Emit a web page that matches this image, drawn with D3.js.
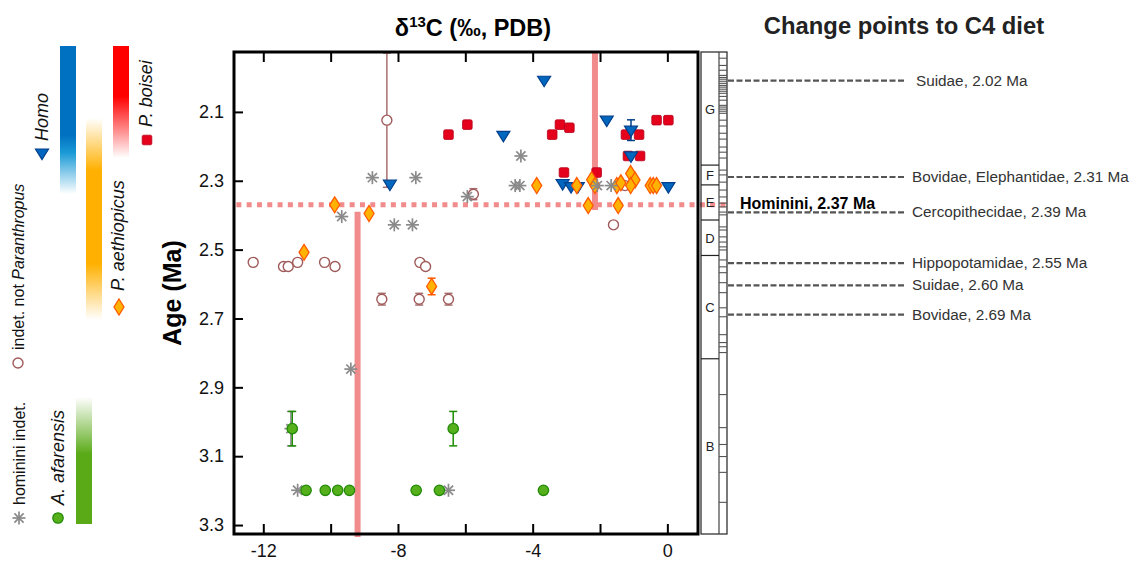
<!DOCTYPE html>
<html>
<head>
<meta charset="utf-8">
<script src="https://cdn.jsdelivr.net/npm/d3@7"></script>
<style>
  body { margin: 0; background: #fff; }
  svg { font-family: "Liberation Sans", Arial, Helvetica, sans-serif; }
</style>
</head>
<body>
<div id="chart"></div>
<script>
// values: [d13C, age (Ma), error half-width]
const homo = [
  [-3.66, 2.008], [-4.87, 2.168], [-1.80, 2.124], [-1.08, 2.153, 0.03], [-1.08, 2.228],
  [-8.24, 2.310], [-3.11, 2.308], [-2.86, 2.317], [-2.66, 2.317], [0.03, 2.317]
];
const boisei = [
  [-6.50, 2.166], [-5.94, 2.137], [-3.42, 2.166], [-3.19, 2.137], [-2.91, 2.146],
  [-1.23, 2.166], [-0.84, 2.166], [-0.32, 2.124], [0.03, 2.124], [-1.17, 2.228],
  [-0.81, 2.228], [-3.07, 2.276], [-2.10, 2.276]
];
const aethiopicus = [
  [-9.88, 2.370], [-8.86, 2.395], [-10.79, 2.508], [-7.00, 2.607, 0.024], [-3.88, 2.314],
  [-2.69, 2.314], [-2.25, 2.297], [-2.15, 2.314], [-1.50, 2.314], [-1.38, 2.306],
  [-1.09, 2.279], [-0.96, 2.298], [-1.09, 2.314], [-0.51, 2.314], [-0.42, 2.314],
  [-0.32, 2.314], [-2.35, 2.372], [-1.46, 2.372]
];
const indetNotParanthropus = [
  [-8.33, 2.124, 0.195], [-5.76, 2.339, 0.016], [-12.30, 2.537], [-11.40, 2.549],
  [-11.26, 2.549], [-10.98, 2.537], [-10.18, 2.537], [-9.87, 2.549], [-7.35, 2.537],
  [-7.18, 2.549], [-8.48, 2.644, 0.017], [-7.37, 2.644, 0.017], [-6.50, 2.644, 0.017],
  [-1.60, 2.428], [-1.26, 2.314]
];
const homininiIndet = [
  [-8.76, 2.291], [-7.47, 2.291], [-5.94, 2.346], [-9.67, 2.404], [-8.11, 2.428],
  [-7.57, 2.428], [-4.35, 2.228], [-4.52, 2.314], [-4.38, 2.314], [-2.08, 2.314],
  [-1.67, 2.314], [-9.40, 2.847], [-11.18, 3.020, 0.05], [-10.98, 3.199], [-6.50, 3.199]
];
const afarensis = [
  [-11.14, 3.020, 0.05], [-6.36, 3.020, 0.05], [-10.73, 3.199], [-10.16, 3.199],
  [-9.79, 3.199], [-9.44, 3.199], [-7.46, 3.199], [-6.77, 3.199], [-3.68, 3.199]
];

// shift in d13C: [d13C, from age, to age]
const shiftLines = [[-9.2, 2.39, 3.335], [-2.15, 1.926, 2.385]];
const homininiChange = 2.37;

const xTicks = [-12, -10, -8, -6, -4, -2, 0];
const xLabels = [-12, -8, -4, 0];
const yTicks = [2.1, 2.3, 2.5, 2.7, 2.9, 3.1, 3.3];

// stratigraphic column
const members = ["G", "F", "E", "D", "C", "B"];
const memberBounds = [1.926, 2.2545, 2.312, 2.414, 2.517, 2.817, 3.326];
const sectionTicks = [1.944, 1.965, 1.979, 1.994, 2.000, 2.005, 2.011, 2.017, 2.023, 2.028,
  2.034, 2.040, 2.046, 2.055, 2.066, 2.081, 2.086, 2.092, 2.098, 2.104, 2.124, 2.141,
  2.162, 2.179, 2.202, 2.217, 2.234, 2.269, 2.283, 2.304, 2.327, 2.347, 2.365, 2.376,
  2.391, 2.399, 2.434, 2.443, 2.463, 2.478, 2.492, 2.501, 2.530, 2.550, 2.567, 2.596,
  2.625, 2.669, 2.695, 2.747, 2.770, 2.782, 2.799, 2.921, 3.017, 3.066, 3.101, 3.147, 3.234];

const changeNames = ["Suidae", "Bovidae, Elephantidae", "Cercopithecidae", "Hippopotamidae", "Suidae", "Bovidae"];
const changeAges = ["2.02", "2.31", "2.39", "2.55", "2.60", "2.69"];
const changeInColumn = [2.009, 2.289, 2.392, 2.539, 2.604, 2.689];

const W = 1136, H = 561;
const svg = d3.select("#chart").append("svg").attr("width", W).attr("height", H);

const x = d3.scaleLinear().domain([-12.87, 0.91]).range([234, 698]);
const y = d3.scaleLinear().domain([1.926, 3.326]).range([52, 534]);

// ---- legend bars
const defs = svg.append("defs");
function grad(id, stops) {
  const g = defs.append("linearGradient").attr("id", id)
    .attr("x1", 0).attr("y1", 0).attr("x2", 0).attr("y2", 1);
  stops.forEach(s => g.append("stop").attr("offset", s[0]).attr("stop-color", s[1]));
}
grad("gHomo", [[0, "#0070c0"], [0.6, "#0070c0"], [0.72, "#1a9ad6"], [1, "#ffffff"]]);
grad("gBoisei", [[0, "#ff0000"], [0.45, "#ff0000"], [1, "#ffffff"]]);
grad("gAeth", [[0, "#ffffff"], [0.26, "#ffb000"], [0.72, "#ffb000"], [1, "#ffffff"]]);
grad("gAfar", [[0, "#ffffff"], [0.45, "#5aaa18"], [1, "#5aaa18"]]);

const bars = [
  {x: 60, y0: 46, y1: 194, fill: "url(#gHomo)"},
  {x: 113, y0: 46, y1: 158, fill: "url(#gBoisei)"},
  {x: 86, y0: 118, y1: 320, fill: "url(#gAeth)"},
  {x: 76, y0: 397, y1: 524, fill: "url(#gAfar)"}
];
svg.selectAll("rect.lbar").data(bars).enter().append("rect")
  .attr("class", "lbar")
  .attr("x", d => d.x).attr("y", d => d.y0)
  .attr("width", 16).attr("height", d => d.y1 - d.y0)
  .attr("fill", d => d.fill);

// ---- symbols
const sym = {
  tri: g => g.append("path").attr("d", "M-6.5,-4L6.5,-4L0,6.5Z")
    .attr("fill", "#0066be").attr("stroke", "#003f8c").attr("stroke-width", 1.2),
  sq: g => g.append("rect").attr("x", -4.8).attr("y", -4.8).attr("width", 9.6).attr("height", 9.6)
    .attr("rx", 1.5).attr("fill", "#e5001b").attr("stroke", "#b5001a").attr("stroke-width", 0.8),
  dia: g => g.append("path").attr("d", "M0,-8L5,0L0,8L-5,0Z")
    .attr("fill", "#ffb300").attr("stroke", "#ff5a00").attr("stroke-width", 1.3),
  circ: g => g.append("circle").attr("r", 5)
    .attr("fill", "#fff").attr("stroke", "#a05a5a").attr("stroke-width", 1.4),
  ast: g => {
    [0, 45, 90, 135].forEach(a => g.append("line")
      .attr("x1", -6.5).attr("x2", 6.5).attr("transform", `rotate(${a})`)
      .attr("stroke", "#8a8a8a").attr("stroke-width", 1.7));
  },
  green: g => g.append("circle").attr("r", 5.2)
    .attr("fill", "#55b01c").attr("stroke", "#238a08").attr("stroke-width", 1.3)
};

// ---- legend labels
const legend = [
  {parts: [["Homo", true]], tx: 48, ty: 141, size: 18, mark: "tri", mx: 42, my: 153},
  {parts: [["P. boisei", true]], tx: 152, ty: 127, size: 18, mark: "sq", mx: 147, my: 140},
  {parts: [["P. aethiopicus", true]], tx: 124, ty: 291, size: 18, mark: "dia", mx: 119, my: 307},
  {parts: [["indet. not ", false], ["Paranthropus", true]], tx: 24, ty: 350, size: 16, mark: "circ", mx: 18, my: 363},
  {parts: [["hominini indet.", false]], tx: 25, ty: 505, size: 16, mark: "ast", mx: 19, my: 518},
  {parts: [["A. afarensis", true]], tx: 64, ty: 505, size: 18, mark: "green", mx: 58, my: 518}
];
legend.forEach(l => {
  const t = svg.append("text")
    .attr("transform", `translate(${l.tx},${l.ty}) rotate(-90)`)
    .attr("font-size", l.size).attr("fill", "#111");
  l.parts.forEach(p => t.append("tspan").text(p[0]).attr("font-style", p[1] ? "italic" : "normal"));
  sym[l.mark](svg.append("g").attr("transform", `translate(${l.mx},${l.my})`));
});

// ---- shift lines
const red = "#f28b8b";
svg.selectAll("line.shift").data(shiftLines).enter().append("line")
  .attr("x1", d => x(d[0])).attr("x2", d => x(d[0]))
  .attr("y1", d => y(d[1])).attr("y2", d => y(d[2]))
  .attr("stroke", red).attr("stroke-width", 6);
svg.append("line")
  .attr("x1", x(-12.8)).attr("x2", 728)
  .attr("y1", y(homininiChange)).attr("y2", y(homininiChange))
  .attr("stroke", red).attr("stroke-width", 5).attr("stroke-dasharray", "5,5.3");

// ---- data points
function drawSeries(data, mark, errColor) {
  const g = svg.append("g");
  data.filter(d => d[2]).forEach(d => {
    const eg = g.append("g").attr("stroke", errColor).attr("stroke-width", 1.5);
    const cx = x(d[0]), ya = y(d[1] - d[2]), yb = y(d[1] + d[2]);
    eg.append("line").attr("x1", cx).attr("x2", cx).attr("y1", ya).attr("y2", yb);
    [ya, yb].forEach(v => eg.append("line").attr("x1", cx - 4).attr("x2", cx + 4).attr("y1", v).attr("y2", v));
  });
  data.forEach(d => sym[mark](g.append("g").attr("transform", `translate(${x(d[0])},${y(d[1])})`)));
}
drawSeries(indetNotParanthropus, "circ", "#a86e6e");
drawSeries(boisei, "sq", "#c0001a");
drawSeries(homo, "tri", "#003f8c");
drawSeries(aethiopicus, "dia", "#ff5a00");
drawSeries(homininiIndet, "ast", "#8a8a8a");
drawSeries(afarensis, "green", "#1e8c00");

// ---- axes
const axB = svg.append("g").attr("transform", `translate(0,${y.range()[1]})`)
  .call(d3.axisBottom(x).tickValues(xTicks).tickSizeInner(-10).tickSizeOuter(0).tickPadding(10)
    .tickFormat(d => xLabels.includes(d) ? String(d) : ""));
const axT = svg.append("g").attr("transform", `translate(0,${y.range()[0]})`)
  .call(d3.axisTop(x).tickValues(xTicks).tickSizeInner(-10).tickSizeOuter(0).tickFormat(""));
const axL = svg.append("g").attr("transform", `translate(${x.range()[0]},0)`)
  .call(d3.axisLeft(y).tickValues(yTicks).tickSizeInner(-9).tickSizeOuter(0).tickPadding(10)
    .tickFormat(d3.format(".1f")));
[axB, axT, axL].forEach(a => {
  a.select(".domain").remove();
  a.selectAll(".tick line").attr("stroke", "#000").attr("stroke-width", 2);
  a.selectAll(".tick text").attr("font-size", 18).attr("fill", "#111")
    .attr("font-family", "'Liberation Sans', Arial, sans-serif");
});

svg.append("rect")
  .attr("x", x.range()[0]).attr("y", y.range()[0])
  .attr("width", x.range()[1] - x.range()[0]).attr("height", y.range()[1] - y.range()[0])
  .attr("fill", "none").attr("stroke", "#000").attr("stroke-width", 3);

svg.append("text")
  .attr("transform", `translate(181,${(y.range()[0] + y.range()[1]) / 2}) rotate(-90)`)
  .attr("text-anchor", "middle").attr("font-size", 25).attr("font-weight", "bold")
  .text("Age (Ma)");

const title = svg.append("text").attr("x", 473).attr("y", 36)
  .attr("text-anchor", "middle").attr("font-size", 23.5).attr("font-weight", "bold");
title.append("tspan").text("δ");
title.append("tspan").text("13").attr("font-size", 15).attr("dy", -9);
title.append("tspan").text("C (‰, PDB)").attr("dy", 9);

svg.append("text").attr("x", 904).attr("y", 34)
  .attr("text-anchor", "middle").attr("font-size", 23.8).attr("font-weight", "bold")
  .attr("fill", "#222")
  .text("Change points to C4 diet");

// ---- stratigraphic column
const colX0 = 701, colX1 = 719, colX2 = 727;
const col = svg.append("g");
col.append("rect").attr("x", colX0).attr("y", y(memberBounds[0]))
  .attr("width", colX2 - colX0).attr("height", y(memberBounds[6]) - y(memberBounds[0]))
  .attr("fill", "none").attr("stroke", "#222").attr("stroke-width", 1.2);
col.append("line").attr("x1", colX1).attr("x2", colX1)
  .attr("y1", y(memberBounds[0])).attr("y2", y(memberBounds[6]))
  .attr("stroke", "#444").attr("stroke-width", 1.2);
col.selectAll("line.tk").data(sectionTicks).enter().append("line")
  .attr("x1", colX1).attr("x2", colX2).attr("y1", d => y(d)).attr("y2", d => y(d))
  .attr("stroke", "#555").attr("stroke-width", 1.1);
col.selectAll("line.mb").data(memberBounds.slice(1, 6)).enter().append("line")
  .attr("x1", colX0).attr("x2", colX1).attr("y1", d => y(d)).attr("y2", d => y(d))
  .attr("stroke", "#222").attr("stroke-width", 1.2);
col.selectAll("text.mem").data(members).enter().append("text")
  .attr("x", (colX0 + colX1) / 2)
  .attr("y", (d, i) => (y(memberBounds[i]) + y(memberBounds[i + 1])) / 2 + 5)
  .attr("text-anchor", "middle").attr("font-size", 13).attr("fill", "#222").text(d => d);

// ---- change points
svg.selectAll("line.cp").data(changeInColumn).enter().append("line")
  .attr("x1", 728).attr("x2", 905).attr("y1", d => y(d)).attr("y2", d => y(d))
  .attr("stroke", "#555").attr("stroke-width", 2.2).attr("stroke-dasharray", "6,2.5");
svg.selectAll("text.cp").data(changeNames).enter().append("text")
  .attr("x", (d, i) => i === 0 ? 916 : 912).attr("y", (d, i) => y(changeInColumn[i]) + 5)
  .attr("font-size", 15.3).attr("fill", "#333")
  .text((d, i) => `${d}, ${changeAges[i]} Ma`);

svg.append("text").attr("x", 740).attr("y", y(homininiChange) + 4)
  .attr("font-size", 16).attr("font-weight", "bold").attr("fill", "#000")
  .text(`Hominini, ${homininiChange} Ma`);
</script>
</body>
</html>
